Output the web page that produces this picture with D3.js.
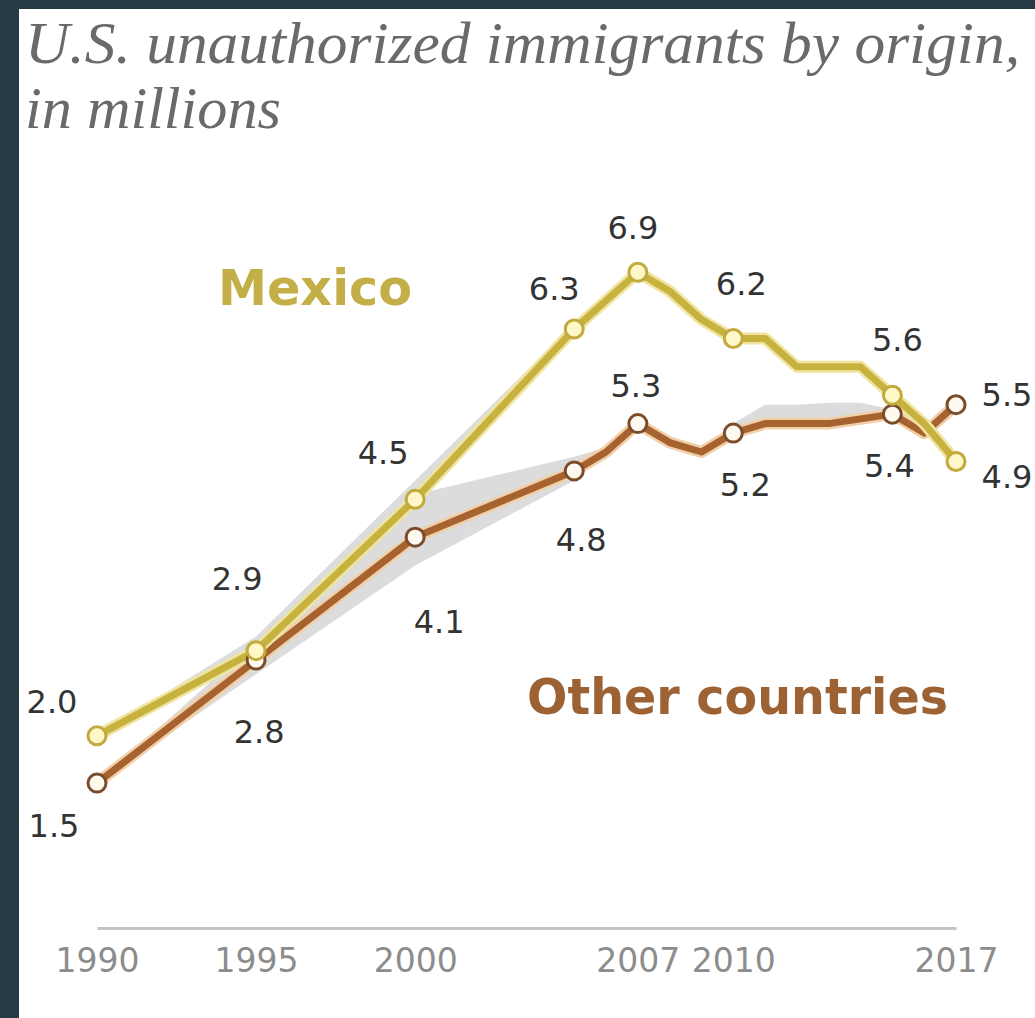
<!DOCTYPE html>
<html>
<head>
<meta charset="utf-8">
<script src="https://cdn.jsdelivr.net/npm/d3@7"></script>
<style>
  html, body { margin: 0; padding: 0; background: #263a43; }
  svg { display: block; }
</style>
</head>
<body>
<svg id="chart" width="1035" height="1018"></svg>
<script>
// ---- data ----
const years = [1990, 1995, 2000, 2005, 2006, 2007, 2008, 2009, 2010, 2011, 2012, 2013, 2014, 2015, 2016, 2017];
const mexico = [2.0, 2.9, 4.5, 6.3, 6.6, 6.9, 6.7, 6.4, 6.2, 6.2, 5.9, 5.9, 5.9, 5.6, 5.3, 4.9];
const other  = [1.5, 2.8, 4.1, 4.8, 5.0, 5.3, 5.1, 5.0, 5.2, 5.3, 5.3, 5.3, 5.35, 5.4, 5.2, 5.5];
// shaded range (lower / upper) around each series
const mexicoLow  = [2.0, 2.9, 4.5, 6.3, 6.6, 6.9, 6.7, 6.4, 6.2, 6.2, 5.9, 5.9, 5.9, 5.6, 5.3, 4.9];
const mexicoHigh = [2.0, 3.05, 4.7, 6.35, 6.65, 6.9, 6.7, 6.4, 6.2, 6.2, 5.9, 5.9, 5.9, 5.6, 5.3, 4.9];
const otherLow   = [1.5, 2.65, 3.8, 4.7, 5.0, 5.3, 5.1, 5.0, 5.2, 5.3, 5.3, 5.3, 5.35, 5.4, 5.2, 5.5];
const otherHigh  = [1.5, 3.0, 4.55, 4.95, 5.05, 5.3, 5.1, 5.0, 5.3, 5.5, 5.5, 5.52, 5.52, 5.45, 5.2, 5.5];
const labeledYears = [1990, 1995, 2000, 2005, 2007, 2010, 2015, 2017];
const tickYears = [1990, 1995, 2000, 2007, 2010, 2017];
const seriesNames = ["Mexico", "Other countries"];
const titleLines = ["U.S. unauthorized immigrants by origin,", "in millions"];

// ---- layout ----
const svg = d3.select("#chart");
svg.append("rect").attr("x", 19).attr("y", 9).attr("width", 1016).attr("height", 1009).attr("fill", "#ffffff");

const x = d3.scaleLinear().domain([1990, 2017]).range([97, 956]);
const y = d3.scaleLinear().domain([0, 7]).range([925, 262.8]);

// title
svg.append("text").attr("x", 25).attr("y", 63)
  .attr("font-family", "Liberation Serif, serif").attr("font-style", "italic")
  .attr("font-size", 60).attr("fill", "#6a6a6a")
  .attr("textLength", 995).attr("lengthAdjust", "spacingAndGlyphs")
  .text(titleLines[0]);
svg.append("text").attr("x", 25).attr("y", 128)
  .attr("font-family", "Liberation Serif, serif").attr("font-style", "italic")
  .attr("font-size", 60).attr("fill", "#6a6a6a")
  .attr("textLength", 256).attr("lengthAdjust", "spacingAndGlyphs")
  .text(titleLines[1]);

// axis
const axis = d3.axisBottom(x).tickValues(tickYears).tickFormat(d3.format("d")).tickSize(0);
const gAxis = svg.append("g").attr("transform", "translate(0,928)").call(axis);
gAxis.select(".domain").attr("stroke", "#c4c4c4").attr("stroke-width", 3);
gAxis.selectAll("text").attr("y", 44).attr("dy", 0)
  .attr("font-family", "DejaVu Sans, sans-serif").attr("font-size", 33).attr("fill", "#8c8c8c");

// bands
const bandArea = d3.area().x(d => x(d.year)).y0(d => y(d.lo)).y1(d => y(d.hi));
const mkBand = (lo, hi) => years.map((yr, i) => ({ year: yr, lo: lo[i], hi: hi[i] }));
svg.append("path").datum(mkBand(otherLow, otherHigh)).attr("d", bandArea).attr("fill", "#d6d6d6").attr("opacity", 0.85);
svg.append("path").datum(mkBand(mexicoLow, mexicoHigh)).attr("d", bandArea).attr("fill", "#d6d6d6").attr("opacity", 0.85);

// lines
const line = d3.line().x(d => x(d.year)).y(d => y(d.v));
const mkSeries = arr => years.map((yr, i) => ({ year: yr, v: arr[i] }));
const styles = [
  { data: mexico, color: "#c7b23f", halo: "#efe4a0", mfill: "#fff7c8", mstroke: "#c2aa3e", text: "#c4ae48" },
  { data: other,  color: "#a6632f", halo: "#f1cfa8", mfill: "#fffaf0", mstroke: "#7a4c2a", text: "#9d6234" }
];
[1, 0].forEach(k => {
  const s = styles[k];
  svg.append("path").datum(mkSeries(s.data)).attr("d", line)
    .attr("fill", "none").attr("stroke", s.halo).attr("stroke-width", 12)
    .attr("stroke-linejoin", "round").attr("stroke-linecap", "round");
  svg.append("path").datum(mkSeries(s.data)).attr("d", line)
    .attr("fill", "none").attr("stroke", s.color).attr("stroke-width", 7)
    .attr("stroke-linejoin", "round").attr("stroke-linecap", "round");
});

// markers
[1, 0].forEach(k => {
  const s = styles[k];
  const pts = mkSeries(s.data).filter(d => labeledYears.includes(d.year));
  svg.append("g").selectAll("circle").data(pts).join("circle")
    .attr("cx", d => x(d.year)).attr("cy", d => y(d.v)).attr("r", 9)
    .attr("fill", s.mfill).attr("stroke", s.mstroke).attr("stroke-width", 3);
});

// value labels (offsets from the point, in px)
const mexOffsets = { 1990: [-45, -34], 1995: [-19, -72], 2000: [-32, -47], 2005: [-20, -41], 2007: [-5, -45], 2010: [8, -55], 2015: [5, -56], 2017: [51, 15] };
const othOffsets = { 1990: [-43, 42], 1995: [3, 71], 2000: [24, 84], 2005: [7, 69], 2007: [-2, -38], 2010: [12, 51], 2015: [-3, 51], 2017: [51, -10] };
const fmt = d3.format(".1f");
[[mexico, mexOffsets], [other, othOffsets]].forEach(([arr, offs]) => {
  const pts = mkSeries(arr).filter(d => labeledYears.includes(d.year));
  svg.append("g").selectAll("text").data(pts).join("text")
    .attr("x", d => x(d.year) + offs[d.year][0])
    .attr("y", d => y(d.v) + offs[d.year][1])
    .attr("dy", "0.36em").attr("text-anchor", "middle")
    .attr("font-family", "DejaVu Sans, sans-serif").attr("font-size", 32).attr("fill", "#333333")
    .text(d => fmt(d.v));
});

// series labels
svg.append("text").attr("x", 218).attr("y", 305)
  .attr("font-family", "DejaVu Sans, sans-serif").attr("font-weight", "bold").attr("font-size", 50)
  .attr("fill", styles[0].text).attr("textLength", 194).attr("lengthAdjust", "spacingAndGlyphs")
  .text(seriesNames[0]);
svg.append("text").attr("x", 527).attr("y", 714)
  .attr("font-family", "DejaVu Sans, sans-serif").attr("font-weight", "bold").attr("font-size", 50)
  .attr("fill", styles[1].text).attr("textLength", 421).attr("lengthAdjust", "spacingAndGlyphs")
  .text(seriesNames[1]);
</script>
</body>
</html>
